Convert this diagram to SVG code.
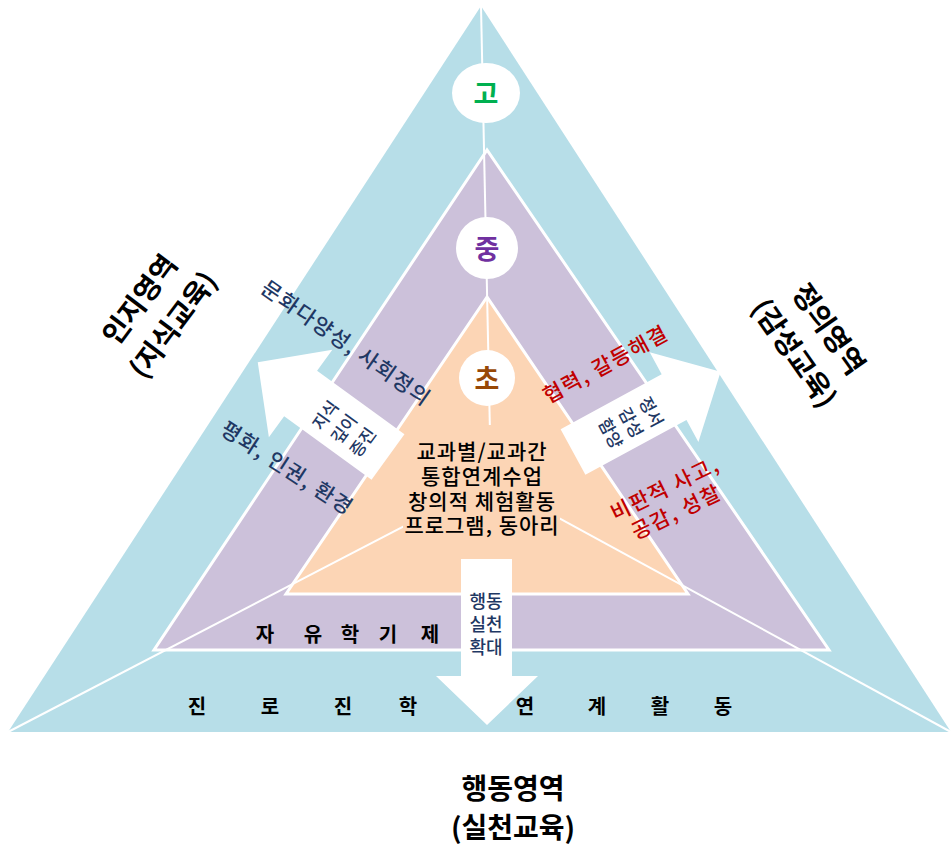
<svg xmlns="http://www.w3.org/2000/svg" width="951" height="846" viewBox="0 0 951 846">
<style>
text{font-family:"Noto Sans CJK KR","Noto Sans",sans-serif;dominant-baseline:central;text-anchor:middle}
.lbl{font-size:28px;font-weight:bold;fill:#000}
.lvl{font-size:27px;font-weight:bold}
.navy{fill:#1F3864}
.red{fill:#C00000}
.diag{font-size:21px;letter-spacing:1.5px;font-weight:500}
.arr{font-size:17px;fill:#1F3864;font-weight:500}
.ctr{font-size:21px;fill:#000;font-weight:500;letter-spacing:1px}
.sp{font-size:20px;font-weight:bold;fill:#000}
.band{stroke:#fff;stroke-width:3}
.wl{stroke:#fff;stroke-width:2;fill:none}
.wa{fill:#fff}
</style>
<g id="outer"><polygon points="481,6 8,732 951,732" fill="#B7DEE8"/></g>
<g id="middle"><polygon class="band" points="487,150 154,650 829,650" fill="#CCC1DA"/></g>
<g id="inner"><polygon class="band" points="487,297 286,594 688,594" fill="#FCD5B5"/></g>
<g id="connectors">
<line class="wl" x1="481" y1="6" x2="491" y2="481"/>
<line class="wl" x1="8" y1="732" x2="491" y2="481"/>
<line class="wl" x1="951" y1="732" x2="491" y2="481"/>
</g>
<g id="center-text">
<rect x="403" y="425" width="157" height="120" fill="#FCD5B5"/>
<text class="ctr" x="482" y="450"><tspan x="482" y="450">교과별/교과간</tspan><tspan x="482" y="475">통합연계수업</tspan><tspan x="482" y="500">창의적 체험활동</tspan><tspan x="482" y="524">프로그램, 동아리</tspan></text>
</g>
<g id="go"><ellipse cx="486" cy="93" rx="34" ry="30" fill="#fff"/><text class="lvl" x="486" y="92" fill="#00B050">고</text></g>
<g id="jung"><circle cx="487" cy="248" r="31" fill="#fff"/><text class="lvl" x="487" y="247" fill="#7030A0">중</text></g>
<g id="cho"><circle cx="487" cy="378" r="28" fill="#fff"/><text class="lvl" x="487" y="377" fill="#984806">초</text></g>
<g id="arrow-left">
<polygon class="wa" transform="translate(388,457) rotate(-144)" points="0,-28 108,-28 108,-54 161,0 108,54 108,28 0,28"/>
<g transform="translate(343,428) rotate(-54)">
<text class="arr" x="0" y="-23">지식</text>
<text class="arr" x="0" y="0">깊이</text>
<text class="arr" x="0" y="23">증진</text>
</g>
</g>
<g id="arrow-right">
<polygon class="wa" transform="translate(573,452) rotate(-28.5)" points="0,-26 115,-26 115,-51 168,0 115,51 115,26 0,26"/>
<g transform="translate(632,422) rotate(62)">
<text class="arr" x="0" y="-23">정서</text>
<text class="arr" x="0" y="0">감성</text>
<text class="arr" x="0" y="23">함양</text>
</g>
</g>
<g id="arrow-down">
<polygon class="wa" points="461,559 512,559 512,676 538,676 487,725 436,676 461,676"/>
<text class="arr" x="486" y="600" style="font-size:18px">행동</text>
<text class="arr" x="486" y="623" style="font-size:18px">실천</text>
<text class="arr" x="486" y="646" style="font-size:18px">확대</text>
</g>
<g id="label-left" transform="translate(155,311) rotate(-53)">
<text class="lbl" x="0" y="-21">인지영역</text>
<text class="lbl" x="0" y="21">(지식교육)</text>
</g>
<g id="label-right" transform="translate(813,340) rotate(55)">
<text class="lbl" x="0" y="-21">정의영역</text>
<text class="lbl" x="0" y="21">(감성교육)</text>
</g>
<g id="label-bottom">
<text class="lbl" x="513" y="787">행동영역</text>
<text class="lbl" x="513" y="826">(실천교육)</text>
</g>
<g id="left-topics">
<text class="diag navy" transform="translate(347,342) rotate(35)">문화다양성, 사회정의</text>
<text class="diag navy" transform="translate(288,467) rotate(33)">평화, 인권, 환경</text>
</g>
<g id="right-topics">
<text class="diag red" transform="translate(605,363) rotate(-28.5)">협력, 갈등해결</text>
<g transform="translate(670,499) rotate(-26)">
<text class="diag red" x="0" y="-13">비판적 사고,</text>
<text class="diag red" x="0" y="13">공감, 성찰</text>
</g>
</g>
<g id="freesem">
<text class="sp" x="265" y="633">자</text>
<text class="sp" x="313" y="633">유</text>
<text class="sp" x="350" y="633">학</text>
<text class="sp" x="388" y="633">기</text>
<text class="sp" x="430" y="633">제</text>
</g>
<g id="career">
<text class="sp" x="197" y="705">진</text>
<text class="sp" x="270" y="705">로</text>
<text class="sp" x="343" y="705">진</text>
<text class="sp" x="408" y="705">학</text>
<text class="sp" x="525" y="705">연</text>
<text class="sp" x="597" y="705">계</text>
<text class="sp" x="660" y="705">활</text>
<text class="sp" x="723" y="705">동</text>
</g>
</svg>
